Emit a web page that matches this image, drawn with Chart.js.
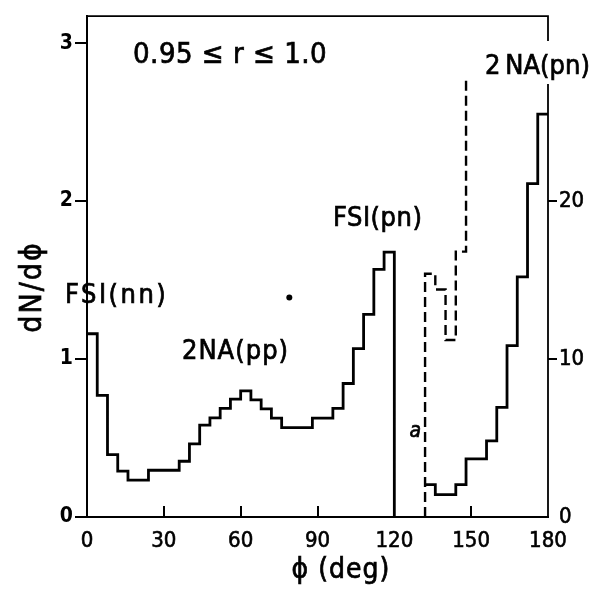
<!DOCTYPE html>
<html>
<head>
<meta charset="utf-8">
<script src="https://cdn.jsdelivr.net/npm/chart.js@4"></script>
<style>
  html, body { margin: 0; padding: 0; background: #fff; }
</style>
</head>
<body>
<canvas id="grafico" width="605" height="592"></canvas>
<script>
// bins de 4 graus, parte esquerda (0 - 120)
var phiEdgesLeft = [0, 4, 8, 12, 16, 20, 24, 28, 32, 36, 40, 44, 48, 52, 56, 60, 64, 68, 72, 76, 80, 84, 88, 92, 96, 100, 104, 108, 112, 116, 120];
var dndphiLeft = [1.16, 0.77, 0.395, 0.29, 0.234, 0.234, 0.296, 0.296, 0.296, 0.353, 0.463, 0.581, 0.628, 0.688, 0.746, 0.798, 0.742, 0.684, 0.626, 0.566, 0.566, 0.566, 0.626, 0.626, 0.688, 0.845, 1.066, 1.283, 1.567, 1.676];

// parte direita (132 - 180), escala da direita
var phiEdgesRight = [132, 136, 140, 144, 148, 152, 156, 160, 164, 168, 172, 176, 180];
var dndphiRight = [2.05, 1.41, 1.41, 2.05, 3.68, 3.68, 4.82, 6.94, 10.85, 15.2, 21.1, 25.5];

// histograma tracejado (a)
var phiEdgesDashed = [132, 136, 140, 144, 148];
var dndphiDashed = [15.4, 14.4, 11.2, 16.8];
var dashedTop = 27.8;

// ponto isolado
var dotPoint = [{ x: 79, y: 1.39 }];

// ticks
var xTicks = [0, 30, 60, 90, 120, 150, 180];
var yTicks = [0, 1, 2, 3];
var y2Ticks = [0, 10, 20];

var fonte = "'DejaVu Sans Condensed', 'DejaVu Sans', sans-serif";

// monta os degraus do histograma
function degraus(edges, vals) {
  var pts = [];
  for (var i = 0; i < vals.length; i++) {
    pts.push({ x: edges[i], y: vals[i] });
    pts.push({ x: edges[i + 1], y: vals[i] });
  }
  return pts;
}

var ptsLeft = degraus(phiEdgesLeft, dndphiLeft);
ptsLeft.push({ x: phiEdgesLeft[phiEdgesLeft.length - 1], y: 0 });

var ptsRight = degraus(phiEdgesRight, dndphiRight);

var ptsDashed = [{ x: phiEdgesDashed[0], y: 0 }].concat(degraus(phiEdgesDashed, dndphiDashed));
ptsDashed.push({ x: phiEdgesDashed[phiEdgesDashed.length - 1], y: dashedTop });

// escreve texto com traco leve (letra mais grossa)
function texto(ctx, t, x, y, esp) {
  ctx.letterSpacing = (esp || 0) + 'px';
  ctx.fillText(t, x, y);
  ctx.strokeText(t, x, y);
  ctx.letterSpacing = '0px';
}

// textos, ticks e moldura
var extras = {
  id: 'extras',
  afterDraw: function (chart) {
    var ctx = chart.ctx;
    var a = chart.chartArea;
    var xs = chart.scales.x;
    var ys = chart.scales.y;
    var ys2 = chart.scales.y2;
    ctx.save();
    ctx.strokeStyle = '#000';
    ctx.fillStyle = '#000';

    // moldura de cima e da direita (com falha no rotulo)
    ctx.lineWidth = 1.8;
    ctx.beginPath();
    ctx.moveTo(a.left, a.top);
    ctx.lineTo(a.right, a.top);
    ctx.lineTo(a.right, 41);
    ctx.moveTo(a.right, 84);
    ctx.lineTo(a.right, a.bottom);
    ctx.stroke();

    ctx.lineWidth = 0.7;
    ctx.textBaseline = 'middle';
    ctx.textAlign = 'left';
    ctx.font = '29px ' + fonte;
    texto(ctx, '0.95 \u2264 r \u2264 1.0', 133, 55, 0.5);

    ctx.font = '27px ' + fonte;
    texto(ctx, 'FSI(nn)', 65, 296, 2.5);
    texto(ctx, '2NA(pp)', 182, 352, 1);
    texto(ctx, 'FSI(pn)', 333, 219, 0.5);
    texto(ctx, '2\u2009NA(pn)', 485, 67, 0);

    ctx.font = 'italic 21px ' + fonte;
    ctx.textAlign = 'right';
    texto(ctx, 'a', 421, 432);

    // titulos dos eixos
    ctx.textAlign = 'center';
    ctx.font = '28px ' + fonte;
    texto(ctx, '\u03d5 (deg)', 341, 571, 1);

    ctx.save();
    ctx.translate(33, 287);
    ctx.rotate(-Math.PI / 2);
    ctx.font = '30px ' + fonte;
    texto(ctx, 'dN/d\u03d5', 0, 0, 2);
    ctx.restore();

    // ticks: x para dentro, esquerda e direita para fora
    xTicks.forEach(function (v) {
      if (v == 0 || v == 180) return;
      var px = Math.round(xs.getPixelForValue(v));
      ctx.fillRect(px - 1, a.bottom - 11, 2, 11);
    });
    yTicks.forEach(function (v) {
      var py = Math.round(ys.getPixelForValue(v));
      ctx.fillRect(a.left - 12, py - 1, 12, 2);
    });
    y2Ticks.forEach(function (v) {
      if (v == 0) return;
      var py = Math.round(ys2.getPixelForValue(v));
      ctx.fillRect(a.right, py - 1, 9, 2);
    });

    ctx.restore();
  }
};

var ctx = document.getElementById('grafico');

var chartGraph = new Chart(ctx, {
  type: 'line',
  data: {
    datasets: [{
      label: 'pp/nn',
      data: ptsLeft,
      yAxisID: 'y',
      borderColor: '#000',
      borderWidth: 2.8,
      pointRadius: 0,
      fill: false,
      clip: false
    }, {
      label: 'pn',
      data: ptsRight,
      yAxisID: 'y2',
      borderColor: '#000',
      borderWidth: 2.8,
      pointRadius: 0,
      fill: false,
      clip: false
    }, {
      label: 'a',
      data: ptsDashed,
      yAxisID: 'y2',
      borderColor: '#000',
      borderWidth: 2.4,
      borderDash: [10, 5],
      pointRadius: 0,
      fill: false,
      clip: false
    }, {
      type: 'scatter',
      label: 'ponto',
      data: dotPoint,
      yAxisID: 'y',
      pointRadius: 3,
      pointBackgroundColor: '#000',
      pointBorderWidth: 0
    }]
  },
  plugins: [extras],
  options: {
    responsive: false,
    animation: false,
    layout: { padding: { top: 6, left: 0, right: 0, bottom: 0 } },
    plugins: {
      legend: { display: false },
      tooltip: { enabled: false }
    },
    scales: {
      x: {
        type: 'linear',
        min: 0,
        max: 180,
        afterBuildTicks: function (s) { s.ticks = xTicks.map(function (v) { return { value: v }; }); },
        afterFit: function (s) { s.height = 75; },
        ticks: { color: '#000', padding: 11, font: { family: fonte, size: 22 }, maxRotation: 0, textStrokeColor: '#000', textStrokeWidth: 0.6 },
        grid: { drawOnChartArea: false, drawTicks: false },
        border: { color: '#000', width: 2 }
      },
      y: {
        position: 'left',
        min: 0,
        max: 3.17,
        afterBuildTicks: function (s) { s.ticks = yTicks.map(function (v) { return { value: v }; }); },
        afterFit: function (s) { s.width = 87; },
        ticks: { color: '#000', padding: 3, font: { family: fonte, size: 21, weight: 'bold' } },
        grid: { drawOnChartArea: false, tickLength: 11, color: '#000', lineWidth: 2 },
        border: { color: '#000', width: 2 }
      },
      y2: {
        position: 'right',
        min: 0,
        max: 31.7,
        afterBuildTicks: function (s) { s.ticks = y2Ticks.map(function (v) { return { value: v }; }); },
        afterFit: function (s) { s.width = 57; },
        ticks: { color: '#000', padding: 3, font: { family: fonte, size: 22 }, textStrokeColor: '#000', textStrokeWidth: 0.6 },
        grid: {
          drawOnChartArea: false,
          tickLength: 8,
          lineWidth: 1.8,
          color: function (c) { return (c.tick && c.tick.value === 0) ? 'rgba(0,0,0,0)' : '#000'; }
        },
        border: { display: false }
      }
    }
  }
});
</script>
</body>
</html>
